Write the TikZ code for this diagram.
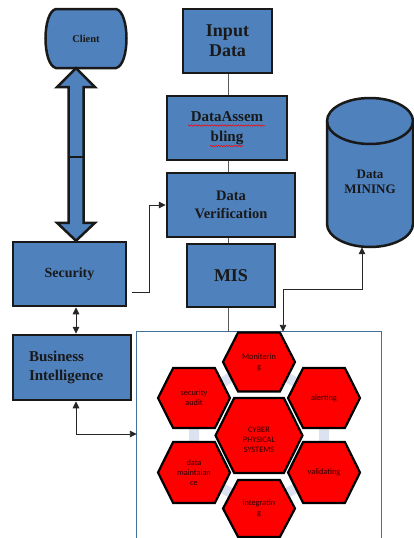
\documentclass[tikz,border=0pt]{standalone}
\usepackage{fontspec}
\setmainfont{Liberation Serif}
\newfontfamily\hexfont{Carlito}
\usetikzlibrary{arrows.meta,calc,decorations.pathmorphing}
\definecolor{boxblue}{HTML}{4F81BD}
\definecolor{framecol}{HTML}{41719C}
\definecolor{pale}{HTML}{DCE2F0}
\definecolor{hexred}{HTML}{FF0000}
\definecolor{hexink}{HTML}{2B0000}
\newcommand{\myhex}[6]{%
  \draw[hexst] ({#2-#4/2},#3) -- ({#2-0.29*#4},{#3-#5/2}) -- ({#2+0.29*#4},{#3-#5/2}) -- ({#2+#4/2},#3) -- ({#2+0.29*#4},{#3+#5/2}) -- ({#2-0.29*#4},{#3+#5/2}) -- cycle;
  \node[hextext] (#1) at (#2,#3) {#6};%
}
\begin{document}
\begin{tikzpicture}[x=1pt,y=-1pt,
  bluebox/.style={draw=black!90, line width=2.5pt, fill=boxblue, inner sep=0pt, align=center, font=\bfseries, text=black!90},
  plain/.style={inner sep=0pt, align=center, font=\bfseries, text=black!90},
  link/.style={draw=black!65, line width=0.9pt},
  con/.style={draw=black!85, line width=0.9pt, arrows={-Triangle[length=7pt,width=6.5pt]}},
  dcon/.style={draw=black!85, line width=0.9pt, arrows={Triangle[length=7pt,width=6.5pt]-Triangle[length=7pt,width=6.5pt]}},
  hexst/.style={draw=black, line width=2.2pt, fill=hexred, line join=miter},
  hextext/.style={inner sep=0pt, align=center, text=hexink, font=\hexfont\fontsize{8.3}{9.8}\selectfont},
  wavy/.style={draw=red, line width=0.5pt, decorate, decoration={snake, amplitude=0.7pt, segment length=2.6pt}}
]
\useasboundingbox (0,0) rectangle (414,538);

% helper columns
\coordinate (ax) at (76,0);
\coordinate (lx) at (228,0);
\coordinate (bic) at (0,434);

% Client
\draw[draw=black!90, line width=2.5pt, fill=boxblue]
  (56,9) -- (116,9) .. controls (130,12) and (130,65) .. (116,68)
  -- (56,68) .. controls (42,65) and (42,12) .. (56,9) -- cycle;
\node[plain, minimum width=82pt, minimum height=59pt, font=\bfseries\fontsize{10.5}{12}\selectfont] (Client) at (86,38.5) {Client};

% blue boxes
\node[bluebox, minimum width=89pt, minimum height=64pt, font=\bfseries\fontsize{18}{20}\selectfont] (ID) at (227.5,41) {Input\\Data};
\node[bluebox, minimum width=120pt, minimum height=64pt, font=\bfseries\fontsize{15}{19.5}\selectfont] (DA) at (227,128) {DataAssem\\bling};
\node[bluebox, minimum width=128pt, minimum height=64pt, font=\bfseries\fontsize{14.5}{17.5}\selectfont] (DV) at (231,205) {Data\\Verification};
\node[bluebox, minimum width=88pt, minimum height=63pt, font=\bfseries\fontsize{18}{20}\selectfont] (MIS) at (231,275.5) {MIS};
\node[bluebox, minimum width=113pt, minimum height=64pt, font=\bfseries\fontsize{14}{16}\selectfont] (Sec) at (69.5,274) {Security};
\node[bluebox, minimum width=118pt, minimum height=65pt, text width=86pt, align=left, font=\bfseries\fontsize{15}{19}\selectfont] (BI) at (72,367.5) {Business\\Intelligence};

% spell-check underline
\draw[wavy] ($(DA.center)+(-39,-2.5)$) -- ++(77,0);
\draw[wavy] ($(DA.center)+(-17,18)$) -- ++(33,0);

% Data Mining cylinder
\node[inner sep=0pt, minimum width=86pt, minimum height=149pt] (DM) at (370,172.5) {};
\draw[draw=black!90, line width=2.5pt, fill=boxblue]
  (327,121) -- (327,224) .. controls (327,236.7) and (346.3,247) .. (370,247)
  .. controls (393.7,247) and (413,236.7) .. (413,224) -- (413,121)
  .. controls (413,108.3) and (393.7,98) .. (370,98)
  .. controls (346.3,98) and (327,108.3) .. (327,121) -- cycle;
\draw[draw=black!90, line width=2.5pt]
  (327,121) .. controls (327,133.7) and (346.3,144) .. (370,144)
  .. controls (393.7,144) and (413,133.7) .. (413,121);
\node[plain, font=\bfseries\fontsize{13}{15}\selectfont] (DMT) at (370,182) {Data\\MINING};

% CPS frame
\node[inner sep=0pt, minimum width=244pt, minimum height=206pt] (CPS) at (259,435) {};
\draw[draw=framecol, line width=1.2pt] (CPS.south west) -- (CPS.north west) -- (CPS.north east) -- (CPS.south east);

% fat double arrow Client <-> Security
\coordinate (T1) at (ax |- Client.south);
\coordinate (T2) at (ax |- Sec.north);
\draw[draw=black!90, line width=2.5pt, fill=boxblue, line join=miter]
  (T1) -- ($(T1)+(19,19)$) -- ($(T1)+(7.5,19)$) -- ($(T2)+(7.5,-18)$) -- ($(T2)+(19,-18)$)
  -- (T2) -- ($(T2)+(-19,-18)$) -- ($(T2)+(-7.5,-18)$) -- ($(T1)+(-7.5,19)$) -- ($(T1)+(-19,19)$) -- cycle;
\draw[draw=black!90, line width=2pt] ($(T1)!0.515!(T2)+(-7.5,0)$) -- ++(15,0);

% thin links in the column
\draw[link] (ID.south -| lx) -- (DA.north -| lx);
\draw[link] (DA.south -| lx) -- (DV.north -| lx);
\draw[link] (DV.south -| lx) -- (MIS.north -| lx);
\draw[link] (MIS.south -| lx) -- (CPS.north -| lx);

% arrows
\draw[con] ($(Sec.east)+(5,18)$) -- ++(17,0) |- (DV.west);
\draw[dcon] ($(DM.south)+(-8,0)$) -- ++(0,42) -| ($(CPS.north)+(24,0)$);
\draw[dcon] (ax |- Sec.south) -- (ax |- BI.north);
\draw[dcon] (ax |- BI.south) |- (CPS.west |- bic);

% pale ring behind hexagons
\draw[pale, line width=10pt, line join=round] (259,362) -- (324,398) -- (324,472.5) -- (259,508.5) -- (194,472.5) -- (194,398) -- cycle;

% hexagons
\myhex{HM}{259}{362}{72}{59}{Moniterin\\g}
\myhex{HSA}{194}{398}{72}{60}{security\\audit}
\myhex{HAL}{324}{398}{72}{60}{alerting}
\myhex{HDM}{194}{472.5}{72}{61}{data\\maintaian\\ce}
\myhex{HVA}{324}{472.5}{72}{61}{validating}
\myhex{HIN}{259}{508.5}{72}{57}{integratin\\g}
\draw[hexst] (215.5,435.5) -- (234.2,398) -- (283.8,398) -- (302.5,435.5) -- (283.8,473) -- (234.2,473) -- cycle;
\node[hextext] (HC) at (259,440) {CYBER\\PHYSICAL\\SYSTEMS};
\end{tikzpicture}
\end{document}
